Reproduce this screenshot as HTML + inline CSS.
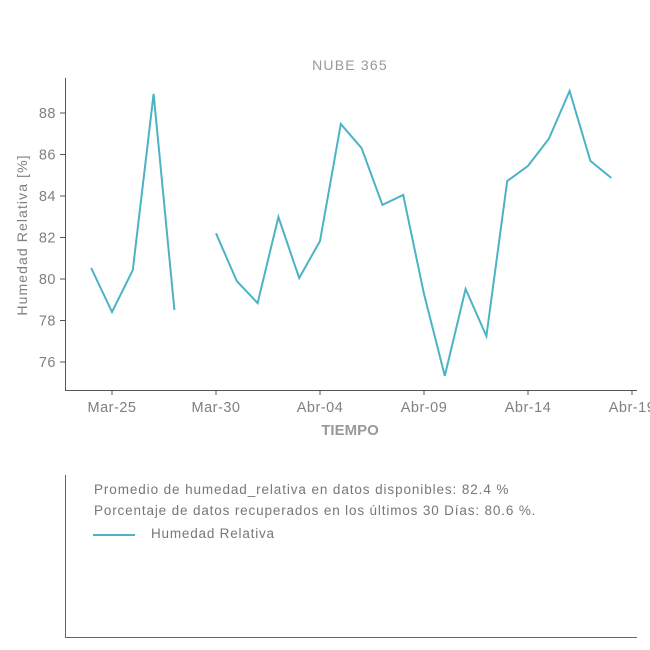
<!DOCTYPE html>
<html><head><meta charset="utf-8"><style>
body{margin:0;background:#fff;width:650px;height:650px;overflow:hidden;font-family:"Liberation Sans",sans-serif}
svg{display:block}
</style></head><body>
<svg id="chart" width="650" height="650" font-family="Liberation Sans, sans-serif">
<text x="350" y="70" text-anchor="middle" font-size="14" letter-spacing="1.2" fill="#999">NUBE 365</text>
<g id="axes"></g>
<text x="350" y="435" text-anchor="middle" font-size="15" font-weight="bold" fill="#999">TIEMPO</text>
<text transform="translate(27,235) rotate(-90)" text-anchor="middle" font-size="14" letter-spacing="1.1" fill="#808080">Humedad Relativa [%]</text>
<path id="series" fill="none" stroke="#4bb3c4" stroke-width="2"/>
<line x1="65.5" y1="475" x2="65.5" y2="637.5" stroke="#666"/>
<line x1="65" y1="637.5" x2="637" y2="637.5" stroke="#666"/>
<text x="94" y="494" font-size="13.5" letter-spacing="0.9" fill="#777">Promedio de humedad_relativa en datos disponibles: 82.4 %</text>
<text x="94" y="515" font-size="13.5" letter-spacing="0.85" fill="#777">Porcentaje de datos recuperados en los últimos 30 Días: 80.6 %.</text>
<line x1="93" y1="535" x2="135" y2="535" stroke="#4bb3c4" stroke-width="2"/>
<text x="151" y="538" font-size="13.5" letter-spacing="0.8" fill="#777">Humedad Relativa</text>
</svg>
<script>
const dayIndex=[0,1,2,3,4,5,6,7,8,9,10,11,12,13,14,15,16,17,18,19,20,21,22,23,24,25];
const values=[80.53,78.41,80.43,88.92,78.5,null,82.2,79.9,78.84,82.99,80.05,81.83,87.47,86.31,83.57,84.05,79.28,75.33,79.52,77.25,84.72,85.45,86.75,89.06,85.69,84.87];
const xTickDays=[1,6,11,16,21,26];
const xTickLabels=["Mar-25","Mar-30","Abr-04","Abr-09","Abr-14","Abr-19"];
const yTicks=[76,78,80,82,84,86,88];

const x=d=>91.2+d*20.8;
const y=v=>113+(88-v)*20.75;
const ns="http://www.w3.org/2000/svg";
const ax=document.getElementById('axes');
function mk(tag,attrs){const e=document.createElementNS(ns,tag);for(const k in attrs)e.setAttribute(k,attrs[k]);ax.appendChild(e);return e;}
let e=mk('line',{x1:65.5,y1:78,x2:65.5,y2:390.5,stroke:'#555'});


e=mk('line',{x1:65,y1:390.5,x2:637,y2:390.5,stroke:'#555'});


yTicks.forEach(t=>{
  const t1=mk('line',{x1:60,x2:65,y1:y(t),y2:y(t),stroke:'#555'});
  
  
  const l=mk('text',{x:56,y:y(t)+5,'text-anchor':'end','font-size':14.5,'letter-spacing':0.5,fill:'#808080'});
  l.textContent=t;
  
  
});
xTickDays.forEach((d,i)=>{
  const t1=mk('line',{x1:x(d),x2:x(d),y1:390,y2:395,stroke:'#555'});
  
  
  const l=mk('text',{x:x(d),y:412,'text-anchor':'middle','font-size':14.5,'letter-spacing':0.5,fill:'#808080'});
  l.textContent=xTickLabels[i];
  
  
});
let p='',pen=false;
values.forEach((v,i)=>{
  if(v==null){pen=false;return;}
  p+=(pen?'L':'M')+x(dayIndex[i]).toFixed(1)+','+y(v).toFixed(1);
  pen=true;
});
document.getElementById('series').setAttribute('d',p);
</script>
</body></html>
